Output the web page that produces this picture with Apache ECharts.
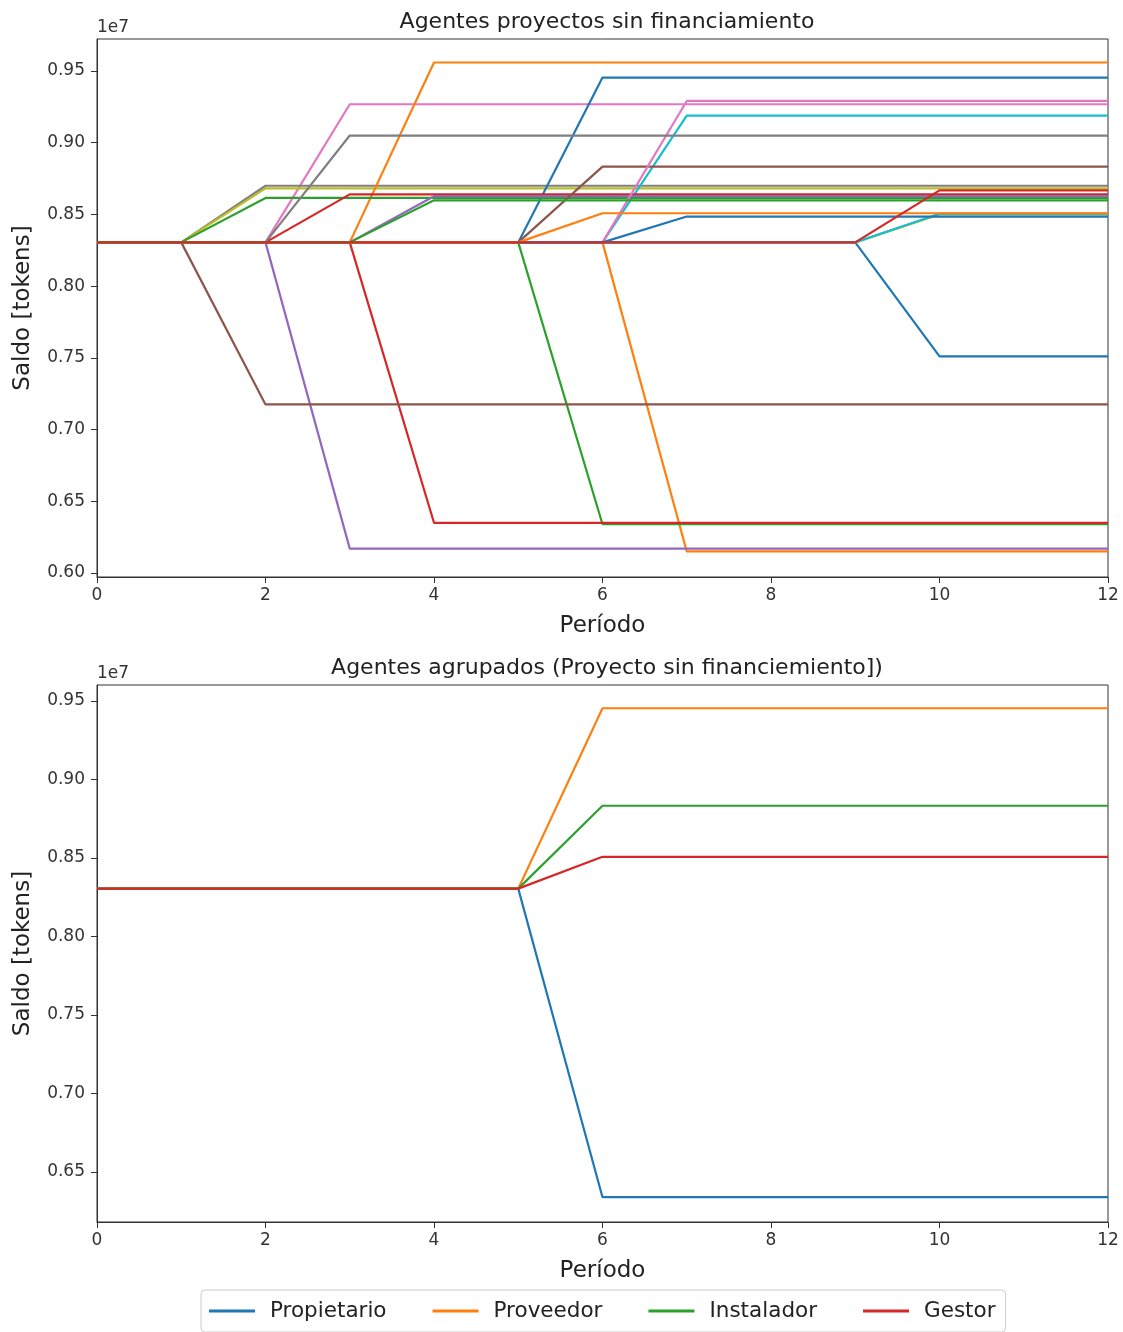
<!DOCTYPE html>
<html>
<head>
<meta charset="utf-8">
<script src="https://cdn.jsdelivr.net/npm/echarts@6/dist/echarts.min.js"></script>
<style>
html,body{margin:0;padding:0;background:#fff;}
#chart{width:1123px;height:1332px;}
</style>
</head>
<body>
<div id="chart"></div>
<script>
// ---------- DATA ----------
const periods = [0,1,2,3,4,5,6,7,8,9,10,11,12];
const xTicks = [0,2,4,6,8,10,12];
const yTicksTop = [6000000,6500000,7000000,7500000,8000000,8500000,9000000,9500000];
const yTicksBottom = [6500000,7000000,7500000,8000000,8500000,9000000,9500000];

const titleTop = 'Agentes proyectos sin financiamiento';
const titleBottom = 'Agentes agrupados (Proyecto sin financiemiento])';
const xLabel = 'Período';
const yLabel = 'Saldo [tokens]';

// Top chart: individual agents (saldo in tokens), drawn in this order
const agentBlue1   = [8305000,8305000,8305000,8305000,8305000,8305000,8305000,8305000,8305000,8305000,7510000,7510000,7510000];
const agentOrange1 = [8305000,8305000,8305000,8305000,8305000,8305000,8305000,6150000,6150000,6150000,6150000,6150000,6150000];
const agentGreen1  = [8305000,8305000,8305000,8305000,8305000,8305000,6340000,6340000,6340000,6340000,6340000,6340000,6340000];
const agentRed1    = [8305000,8305000,8305000,8305000,6350000,6350000,6350000,6350000,6350000,6350000,6350000,6350000,6350000];
const agentPurple1 = [8305000,8305000,8305000,6170000,6170000,6170000,6170000,6170000,6170000,6170000,6170000,6170000,6170000];
const agentBrown1  = [8305000,8305000,7175000,7175000,7175000,7175000,7175000,7175000,7175000,7175000,7175000,7175000,7175000];
const agentPink1   = [8305000,8305000,8305000,9268000,9268000,9268000,9268000,9268000,9268000,9268000,9268000,9268000,9268000];
const agentGray1   = [8305000,8305000,8700000,8700000,8700000,8700000,8700000,8700000,8700000,8700000,8700000,8700000,8700000];
const agentOlive1  = [8305000,8305000,8682000,8682000,8682000,8682000,8682000,8682000,8682000,8682000,8682000,8682000,8682000];
const agentCyan1   = [8305000,8305000,8305000,8305000,8305000,8305000,8305000,9189000,9189000,9189000,9189000,9189000,9189000];
const agentBlue2   = [8305000,8305000,8305000,8305000,8305000,8305000,9454000,9454000,9454000,9454000,9454000,9454000,9454000];
const agentOrange2 = [8305000,8305000,8305000,8305000,9559000,9559000,9559000,9559000,9559000,9559000,9559000,9559000,9559000];
const agentGreen2  = [8305000,8305000,8615000,8615000,8615000,8615000,8615000,8615000,8615000,8615000,8615000,8615000,8615000];
const agentRed2    = [8305000,8305000,8305000,8640000,8640000,8640000,8640000,8640000,8640000,8640000,8640000,8640000,8640000];
const agentPurple2 = [8305000,8305000,8305000,8305000,8627000,8627000,8627000,8627000,8627000,8627000,8627000,8627000,8627000];
const agentBrown2  = [8305000,8305000,8305000,8305000,8305000,8305000,8833000,8833000,8833000,8833000,8833000,8833000,8833000];
const agentPink2   = [8305000,8305000,8305000,8305000,8305000,8305000,8305000,9291000,9291000,9291000,9291000,9291000,9291000];
const agentGray2   = [8305000,8305000,8305000,9050000,9050000,9050000,9050000,9050000,9050000,9050000,9050000,9050000,9050000];
const agentOlive2  = [8305000,8305000,8305000,8305000,8305000,8305000,8305000,8305000,8305000,8305000,8500000,8500000,8500000];
const agentCyan2   = [8305000,8305000,8305000,8305000,8305000,8305000,8305000,8305000,8305000,8305000,8505000,8505000,8505000];
const agentBlue3   = [8305000,8305000,8305000,8305000,8305000,8305000,8305000,8485000,8485000,8485000,8485000,8485000,8485000];
const agentOrange3 = [8305000,8305000,8305000,8305000,8305000,8305000,8508000,8508000,8508000,8508000,8508000,8508000,8508000];
const agentGreen3  = [8305000,8305000,8305000,8305000,8598000,8598000,8598000,8598000,8598000,8598000,8598000,8598000,8598000];
const agentRed3    = [8305000,8305000,8305000,8305000,8305000,8305000,8305000,8305000,8305000,8305000,8668000,8668000,8668000];

// Bottom chart: grouped agents
const groupNames = ['Propietario','Proveedor','Instalador','Gestor'];
const propietario = [8305000,8305000,8305000,8305000,8305000,8305000,6340000,6340000,6340000,6340000,6340000,6340000,6340000];
const proveedor   = [8305000,8305000,8305000,8305000,8305000,8305000,9454000,9454000,9454000,9454000,9454000,9454000,9454000];
const instalador  = [8305000,8305000,8305000,8305000,8305000,8305000,8833000,8833000,8833000,8833000,8833000,8833000,8833000];
const gestor      = [8305000,8305000,8305000,8305000,8305000,8305000,8508000,8508000,8508000,8508000,8508000,8508000,8508000];

// ---------- STYLE ----------
const tab10 = ['#1f77b4','#ff7f0e','#2ca02c','#d62728','#9467bd','#8c564b','#e377c2','#7f7f7f','#bcbd22','#17becf'];
const FONT = 'DejaVu Sans';

const topAgents = [agentBlue1,agentOrange1,agentGreen1,agentRed1,agentPurple1,agentBrown1,
  agentPink1,agentGray1,agentOlive1,agentCyan1,agentBlue2,agentOrange2,agentGreen2,agentRed2,
  agentPurple2,agentBrown2,agentPink2,agentGray2,agentOlive2,agentCyan2,agentBlue3,agentOrange3,
  agentGreen3,agentRed3];
const groups = [propietario,proveedor,instalador,gestor];

const pair = arr => periods.map((p,i)=>[p,arr[i]]);

const fmt = v => (v/1e7).toFixed(2);

function xAxisCfg(gridIndex){
  return {
    type:'value', gridIndex, min:0, max:12, interval:2,
    name:xLabel, nameLocation:'middle', nameGap:38,
    nameTextStyle:{fontFamily:FONT,fontSize:23,color:'#222'},
    axisLine:{show:true,onZero:false,lineStyle:{color:'#333',width:1}},
    axisTick:{show:true,inside:false,length:6,lineStyle:{color:'#333'},customValues:xTicks},
    axisLabel:{fontFamily:FONT,fontSize:17,color:'#333',margin:10,customValues:xTicks},
    splitLine:{show:false}
  };
}
function yAxisCfg(gridIndex,min,max,ticks){
  return {
    type:'value', gridIndex, min, max,
    name:yLabel, nameLocation:'middle', nameGap:62,
    nameTextStyle:{fontFamily:FONT,fontSize:23,color:'#222'},
    axisLine:{show:true,onZero:false,lineStyle:{color:'#333',width:1}},
    axisTick:{show:true,inside:false,length:6,lineStyle:{color:'#333'},customValues:ticks},
    axisLabel:{fontFamily:FONT,fontSize:17,color:'#333',margin:12,formatter:fmt,customValues:ticks},
    splitLine:{show:false}
  };
}

const series = [];
topAgents.forEach((arr,i)=>{
  series.push({
    type:'line', name:'Agente '+(i+1), xAxisIndex:0, yAxisIndex:0,
    data:pair(arr), showSymbol:false, symbol:'none', animation:false,
    lineStyle:{color:tab10[i%10],width:2.2}, itemStyle:{color:tab10[i%10]},
    z:2+i*0.01
  });
});
groups.forEach((arr,i)=>{
  series.push({
    type:'line', name:groupNames[i], xAxisIndex:1, yAxisIndex:1,
    data:pair(arr), showSymbol:false, symbol:'none', animation:false,
    lineStyle:{color:tab10[i],width:2.2}, itemStyle:{color:tab10[i]}
  });
});

const option = {
  backgroundColor:'#fff',
  animation:false,
  title:[
    {text:titleTop, left:602, top:6, textAlign:'center',
     textStyle:{fontFamily:FONT,fontSize:22,fontWeight:'normal',color:'#222'}},
    {text:titleBottom, left:602, top:652, textAlign:'center',
     textStyle:{fontFamily:FONT,fontSize:22,fontWeight:'normal',color:'#222'}}
  ],
  grid:[
    {left:97, top:39, width:1011, height:538, show:true, borderColor:'#333', borderWidth:1, containLabel:false},
    {left:97, top:685, width:1011, height:537, show:true, borderColor:'#333', borderWidth:1, containLabel:false}
  ],
  xAxis:[xAxisCfg(0), xAxisCfg(1)],
  yAxis:[yAxisCfg(0,5972000,9723000,yTicksTop), yAxisCfg(1,6182000,9602000,yTicksBottom)],
  legend:{
    data:groupNames, left:201, top:1290, orient:'horizontal',
    icon:'rect', itemWidth:46, itemHeight:3, itemGap:46,
    padding:[10,10,10,8],
    textStyle:{fontFamily:FONT,fontSize:21.5,color:'#222',padding:[0,0,0,10]},
    backgroundColor:'#fff', borderColor:'#ccc', borderWidth:1, borderRadius:4,
    selectedMode:false
  },
  graphic:[
    {type:'text', left:97, top:19, style:{text:'1e7', font:'17px "DejaVu Sans"', fill:'#333'}},
    {type:'text', left:97, top:665, style:{text:'1e7', font:'17px "DejaVu Sans"', fill:'#333'}}
  ],
  series
};

const chart = echarts.init(document.getElementById('chart'), null, {renderer:'canvas'});
chart.setOption(option);
</script>
</body>
</html>
